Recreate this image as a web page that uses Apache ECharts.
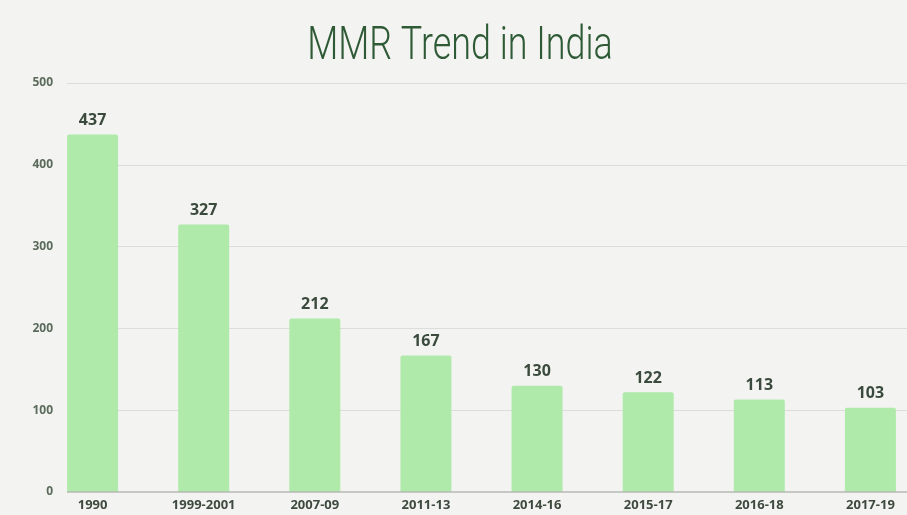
<!DOCTYPE html>
<html><head><meta charset="utf-8">
<script src="https://cdn.jsdelivr.net/npm/echarts@6/dist/echarts.min.js"></script>
<style>html,body{margin:0;padding:0;background:#f3f3f1}#c{width:907px;height:515px}</style>
</head><body><div id="c"></div>
<script>
const categories = ['1990','1999-2001','2007-09','2011-13','2014-16','2015-17','2016-18','2017-19'];
const values = [437,327,212,167,130,122,113,103];
const yTicks = [0,100,200,300,400,500];
const titleText = 'MMR Trend in India';

const chart = echarts.init(document.getElementById('c'));
chart.setOption({
  backgroundColor:'#f3f3f1',
  animation:false,
  graphic:[{type:'text',x:460,y:47,scaleX:0.78,silent:true,
    style:{text:titleText,fontFamily:'Roboto, sans-serif',fontWeight:300,fontSize:46,fill:'#2f5a36',
      align:'center',verticalAlign:'middle'}}],
  grid:[
    {left:67,right:0,top:83,bottom:23,outerBoundsMode:'none'},
    {left:37,width:889,top:83,bottom:23,outerBoundsMode:'none'}
  ],
  xAxis:[
    {gridIndex:0,type:'value',min:0,max:1,show:true,axisLine:{show:false},axisTick:{show:false},axisLabel:{show:false},splitLine:{show:false}},
    {gridIndex:1,type:'category',data:categories,axisLine:{show:false},axisTick:{show:false},
      axisLabel:{color:'#3e4a3e',fontWeight:'bold',fontSize:13,fontFamily:'Open Sans, sans-serif',margin:7}}
  ],
  yAxis:[
    {gridIndex:0,type:'value',min:yTicks[0],max:yTicks[yTicks.length-1],interval:100,
      axisLine:{show:false},axisTick:{show:false},
      axisLabel:{color:'#5b6b5b',fontWeight:'bold',fontSize:12,fontFamily:'Open Sans, sans-serif',margin:14},
      splitLine:{lineStyle:{color:'#dcdcda',width:1}}},
    {gridIndex:1,type:'value',min:0,max:500,interval:100,show:false,splitLine:{show:false}}
  ],
  series:[
    {type:'line',xAxisIndex:0,yAxisIndex:0,data:[[0,0],[1,0]],symbol:'none',lineStyle:{color:'#b5b8b3',width:1.5},silent:true},
    {type:'bar',xAxisIndex:1,yAxisIndex:1,data:values,barWidth:51,
      itemStyle:{color:'#b0eaab',borderRadius:[2,2,0,0]},
      label:{show:true,position:'top',distance:6,color:'#3a4a3c',fontWeight:'bold',fontSize:16,fontFamily:'Open Sans, sans-serif'}}
  ]
});
</script></body></html>
